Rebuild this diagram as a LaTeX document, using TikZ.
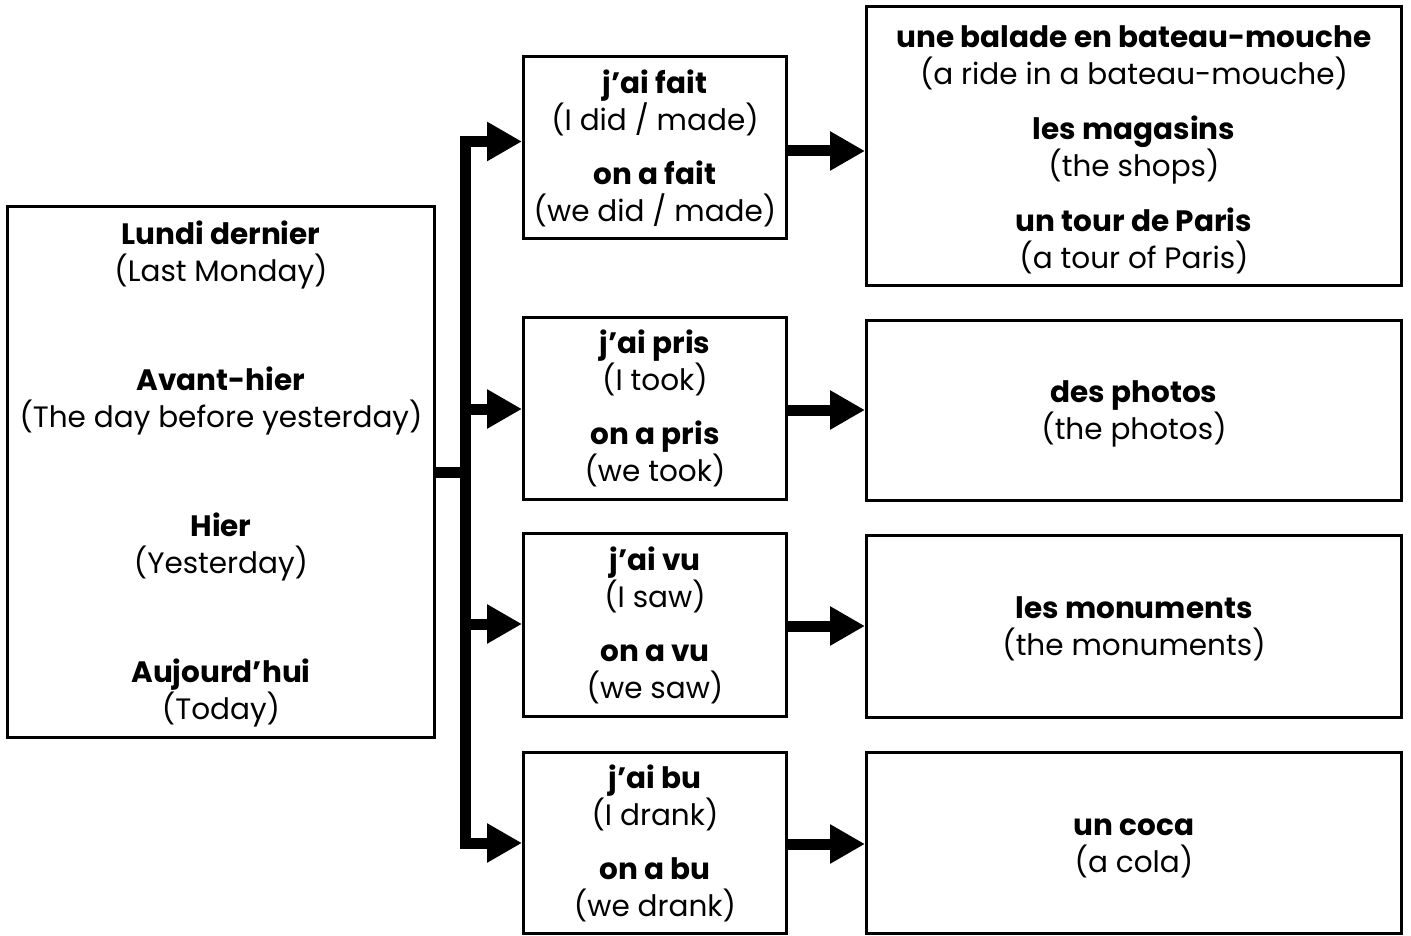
\documentclass[tikz,border=0pt]{standalone}
\usepackage{fontspec}
\setmainfont{Poppins}
\usetikzlibrary{arrows.meta}
\newcommand\topgap[1]{\rule{0pt}{#1pt}}
\begin{document}
\begin{tikzpicture}[x=1pt,y=-1pt,
  box/.style={draw, line width=3pt, align=center, inner sep=0pt,
    font=\fontsize{29.5}{37}\selectfont},
  conn/.style={line width=11pt},
  arr/.style={line width=11pt, -{Triangle[length=35pt,width=37pt]}}
]
\useasboundingbox (0,0) rectangle (1411,936);

\node[box, minimum width=427pt, minimum height=530pt] (L) at (221,472)
  {\topgap{28}\textbf{Lundi dernier}\\(Last Monday)\\[72pt]\textbf{Avant-hier}\\(The day before yesterday)\\[72pt]\textbf{Hier}\\(Yesterday)\\[72pt]\textbf{Aujourd’hui}\\(Today)};

\node[box, minimum width=263pt, minimum height=182pt] (M1) at (655,148)
  {\textbf{j’ai fait}\\(I did / made)\\[17pt]\textbf{on a fait}\\(we did / made)};
\node[box, minimum width=263pt, minimum height=182pt] (M2) at (655,408.5)
  {\textbf{j’ai pris}\\(I took)\\[17pt]\textbf{on a pris}\\(we took)};
\node[box, minimum width=263pt, minimum height=183pt] (M3) at (655,625)
  {\textbf{j’ai vu}\\(I saw)\\[17pt]\textbf{on a vu}\\(we saw)};
\node[box, minimum width=263pt, minimum height=181pt] (M4) at (655,843)
  {\textbf{j’ai bu}\\(I drank)\\[17pt]\textbf{on a bu}\\(we drank)};

\node[box, minimum width=535pt, minimum height=278pt] (R1) at (1134,146)
  {\topgap{30}\textbf{une balade en bateau-mouche}\\(a ride in a bateau-mouche)\\[18pt]\textbf{les magasins}\\(the shops)\\[18pt]\textbf{un tour de Paris}\\(a tour of Paris)};
\node[box, minimum width=535pt, minimum height=180pt] (R2) at (1134,410)
  {\topgap{30}\textbf{des photos}\\(the photos)};
\node[box, minimum width=535pt, minimum height=182pt] (R3) at (1134,626)
  {\topgap{28}\textbf{les monuments}\\(the monuments)};
\node[box, minimum width=535pt, minimum height=181pt] (R4) at (1134,843)
  {\topgap{27}\textbf{un coca}\\(a cola)};

\coordinate (b1) at (465,141.5);
\coordinate (b2) at (465,409);
\coordinate (b3) at (465,624);
\coordinate (b4) at (465,843);

\draw[conn] (L.east) -- (L.east -| b1);
\draw[conn, line cap=rect] (b1) -- (b4);
\draw[arr] (b1) -- (b1 -| M1.west);
\draw[arr] (b2) -- (b2 -| M2.west);
\draw[arr] (b3) -- (b3 -| M3.west);
\draw[arr] (b4) -- (b4 -| M4.west);

\coordinate (r1) at (787,151);
\coordinate (r2) at (787,410);
\coordinate (r3) at (787,626);
\coordinate (r4) at (787,844);
\draw[arr] (r1 -| M1.east) -- (r1 -| R1.west);
\draw[arr] (r2 -| M2.east) -- (r2 -| R2.west);
\draw[arr] (r3 -| M3.east) -- (r3 -| R3.west);
\draw[arr] (r4 -| M4.east) -- (r4 -| R4.west);
\end{tikzpicture}
\end{document}
